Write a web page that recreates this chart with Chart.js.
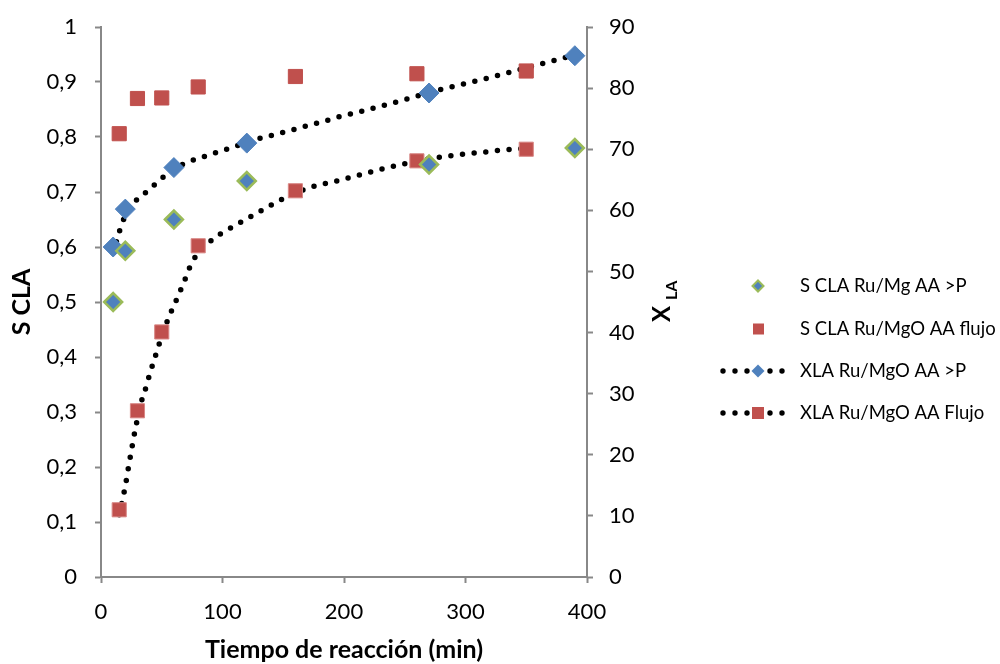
<!DOCTYPE html>
<html>
<head>
<meta charset="utf-8">
<script src="https://cdn.jsdelivr.net/npm/chart.js@4.4.1/dist/chart.umd.min.js"></script>
<style>
  html, body { margin: 0; padding: 0; background: #fff; }
  #wrap { width: 1000px; height: 664px; }
</style>
</head>
<body>
<div id="wrap"><canvas id="chart" width="1000" height="664"></canvas></div>
<script>
// ── Data ──────────────────────────────────────────────────────────────────
const tiempoP = [10, 20, 60, 120, 270, 390];
const tiempoFlujo = [15, 30, 50, 80, 160, 260, 350];

const sClaP = [0.50, 0.593, 0.65, 0.72, 0.75, 0.78];
const sClaFlujo = [0.806, 0.87, 0.871, 0.891, 0.91, 0.915, 0.92];

const xLaP = [54.0, 60.2, 67.0, 71.0, 79.2, 85.3];
const xLaFlujo = [11.0, 27.2, 40.1, 54.2, 63.2, 68.1, 70.0];

// dotted trend lines
const trendPX = [10, 14.4, 17.1, 26.5, 33.9, 41.3, 48.4, 55.6, 72.7, 82, 91, 100.3, 109.4, 127.8, 146.8, 165.4, 184.1, 193.7, 212.4, 231.1, 249.8, 278, 297, 315.7, 334.6, 353.2, 372.2, 381.8, 390];
const trendPY = [53.0, 56.0, 57.8, 61.1, 62.4, 63.7, 64.9, 66.2, 68.0, 68.6, 69.2, 69.8, 70.4, 71.6, 72.6, 73.6, 74.6, 75.2, 76.1, 77.1, 78.1, 79.7, 80.6, 81.5, 82.5, 83.5, 84.5, 85.0, 85.4];
const trendFX = [15, 18, 19.9, 21.6, 23.2, 24.9, 26.5, 28.4, 32.3, 35.3, 38.1, 40.8, 43.8, 46.5, 56.4, 60.3, 64.1, 68, 71.5, 75.4, 94.1, 102.6, 110.8, 119.3, 127.8, 136.3, 144.8, 171.2, 180.6, 190.1, 209.1, 228, 246.7, 275.3, 294.5, 313.7, 332.9, 342, 350];
const trendFY = [10.2, 12.9, 14.8, 16.7, 18.7, 20.5, 22.4, 24.3, 28.1, 29.9, 31.8, 33.7, 35.5, 37.3, 42.8, 44.5, 46.3, 48.1, 49.9, 51.7, 55.6, 56.6, 57.6, 58.5, 59.5, 60.4, 61.4, 63.7, 64.2, 64.6, 65.6, 66.6, 67.5, 68.6, 69.1, 69.5, 69.9, 70.0, 70.2];

const legendLabels = ['S CLA Ru/Mg AA >P', 'S CLA Ru/MgO AA flujo', 'XLA Ru/MgO AA >P', 'XLA Ru/MgO AA Flujo'];

const BLUE = '#4F81BD';
const RED = '#C0504D';
const GREEN = '#9BBB59';
const AXIS = '#888888';
const FONT = 'Lato';

const pts = (xs, ys) => xs.map((x, i) => ({ x, y: ys[i] }));

// ── Legend + axis titles drawn on the canvas ──────────────────────────────
function diamond(ctx, x, y, r, fill, stroke, lw) {
  ctx.beginPath();
  ctx.moveTo(x, y - r); ctx.lineTo(x + r, y); ctx.lineTo(x, y + r); ctx.lineTo(x - r, y);
  ctx.closePath();
  ctx.fillStyle = fill; ctx.fill();
  if (stroke) { ctx.lineWidth = lw; ctx.strokeStyle = stroke; ctx.stroke(); }
}

function dots(ctx, y) {
  ctx.fillStyle = '#000';
  [723, 735, 747, 770, 782].forEach(x => {
    ctx.beginPath(); ctx.arc(x, y, 2.7, 0, Math.PI * 2); ctx.fill();
  });
}

const decorPlugin = {
  id: 'decor',
  afterDraw(chart) {
    const ctx = chart.ctx;
    const rows = [286, 329, 371, 413];
    ctx.save();

    // legend
    diamond(ctx, 758, rows[0], 5.5, BLUE, GREEN, 2);
    ctx.fillStyle = RED; ctx.fillRect(753, rows[1] - 5.5, 11, 11);
    dots(ctx, rows[2]);
    diamond(ctx, 758, rows[2], 6.5, BLUE);
    dots(ctx, rows[3]);
    ctx.fillStyle = RED; ctx.fillRect(752, rows[3] - 6, 12, 12);

    ctx.fillStyle = '#000';
    ctx.font = `18.5px ${FONT}`;
    ctx.textAlign = 'left';
    ctx.textBaseline = 'middle';
    legendLabels.forEach((t, i) => ctx.fillText(t, 800, rows[i]));

    // x title
    ctx.font = `bold 25px ${FONT}`;
    ctx.textAlign = 'center';
    ctx.fillText('Tiempo de reacción (min)', 344, 650);

    // left title
    ctx.save();
    ctx.translate(22, 302);
    ctx.rotate(-Math.PI / 2);
    ctx.fillText('S CLA', 0, 0);
    ctx.restore();

    // right title X_LA
    ctx.save();
    ctx.translate(662, 302);
    ctx.rotate(-Math.PI / 2);
    ctx.textAlign = 'left';
    ctx.textBaseline = 'alphabetic';
    ctx.font = `bold 24px ${FONT}`;
    ctx.fillText('X', -20, 8);
    ctx.font = `bold 16px ${FONT}`;
    ctx.fillText('LA', 2, 15);
    ctx.restore();

    ctx.restore();
  },
};

// ── Chart ─────────────────────────────────────────────────────────────────
const tickFont = { family: FONT, size: 22 };
const axisGrid = { display: true, drawOnChartArea: false, drawTicks: true, tickLength: 6, tickColor: AXIS, tickWidth: 2 };
const axisBorder = { display: true, color: AXIS, width: 2 };

// fixed axis box size; keep the tick padding from pushing the plot down
function fixVertical(width) {
  return s => {
    s.width = width;
    s.paddingTop = 13;
    s.paddingBottom = 13;
  };
}

new Chart(document.getElementById('chart'), {
  type: 'scatter',
  data: {
    datasets: [
      {
        label: legendLabels[0],
        data: pts(tiempoP, sClaP),
        yAxisID: 'y',
        pointStyle: 'rectRot',
        pointRadius: 9,
        backgroundColor: BLUE,
        borderColor: GREEN,
        borderWidth: 2.5,
      },
      {
        label: legendLabels[1],
        data: pts(tiempoFlujo, sClaFlujo),
        yAxisID: 'y',
        pointStyle: 'rect',
        pointRadius: 10,
        backgroundColor: RED,
        borderColor: RED,
        borderWidth: 1,
      },
      {
        label: legendLabels[2],
        data: pts(tiempoP, xLaP),
        yAxisID: 'y2',
        pointStyle: 'rectRot',
        pointRadius: 10,
        backgroundColor: BLUE,
        borderColor: BLUE,
        borderWidth: 1,
      },
      {
        label: legendLabels[3],
        data: pts(tiempoFlujo, xLaFlujo),
        yAxisID: 'y2',
        pointStyle: 'rect',
        pointRadius: 10,
        backgroundColor: RED,
        borderColor: '#D98886',
        borderWidth: 1,
      },
      {
        label: 'trend P',
        data: pts(trendPX, trendPY),
        yAxisID: 'y2',
        showLine: true,
        pointRadius: 0,
        borderColor: '#000',
        borderWidth: 5.5,
        borderDash: [0, 11.7],
        borderCapStyle: 'round',
        cubicInterpolationMode: 'monotone',
      },
      {
        label: 'trend Flujo',
        data: pts(trendFX, trendFY),
        yAxisID: 'y2',
        showLine: true,
        pointRadius: 0,
        borderColor: '#000',
        borderWidth: 5.5,
        borderDash: [0, 11.7],
        borderCapStyle: 'round',
        cubicInterpolationMode: 'monotone',
      },
    ],
  },
  options: {
    responsive: false,
    animation: false,
    events: [],
    devicePixelRatio: 1,
    layout: { padding: { left: 0, right: 333, top: 27, bottom: 0 } },
    plugins: { legend: { display: false }, tooltip: { enabled: false } },
    scales: {
      x: {
        type: 'linear',
        min: 0, max: 400,
        ticks: { stepSize: 100, font: tickFont, color: '#000', padding: 16 },
        grid: axisGrid,
        border: axisBorder,
        afterFit: s => { s.height = 87; },
      },
      y: {
        position: 'left',
        min: 0, max: 1,
        ticks: {
          stepSize: 0.1, font: tickFont, color: '#000', padding: 18,
          callback: v => String(Math.round(v * 10) / 10).replace('.', ','),
        },
        grid: axisGrid,
        border: axisBorder,
        afterFit: fixVertical(101),
      },
      y2: {
        position: 'right',
        min: 0, max: 90,
        ticks: { stepSize: 10, font: tickFont, color: '#000', padding: 16 },
        grid: axisGrid,
        border: axisBorder,
        afterFit: fixVertical(80),
      },
    },
  },
  plugins: [decorPlugin],
});
</script>
</body>
</html>
